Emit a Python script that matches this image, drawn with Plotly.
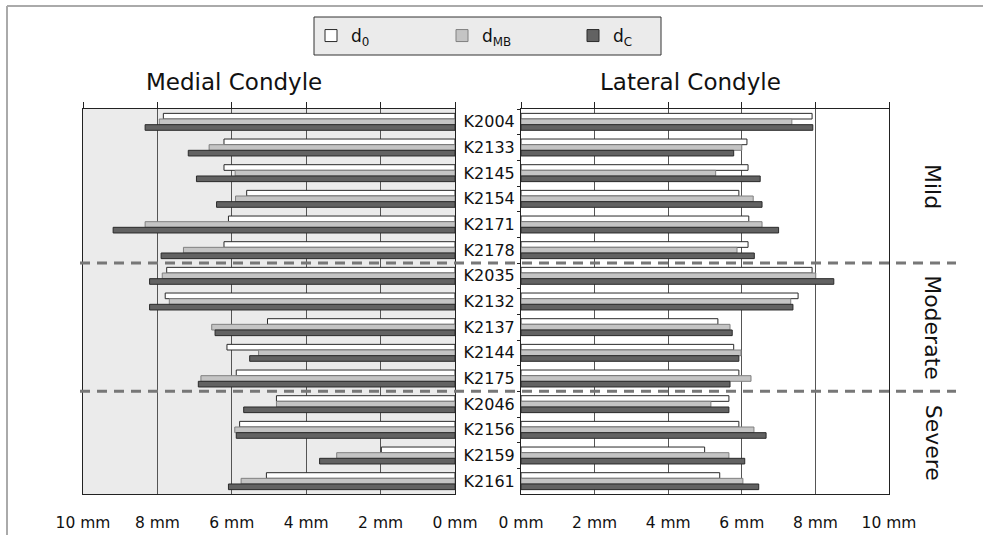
import plotly.graph_objects as go

patients = ["K2004", "K2133", "K2145", "K2154", "K2171", "K2178",
            "K2035", "K2132", "K2137", "K2144", "K2175",
            "K2046", "K2156", "K2159", "K2161"]

medial_d0 = [7.84, 6.21, 6.21, 5.60, 6.09, 6.21, 7.75, 7.79, 5.04, 6.13, 5.88, 4.80, 5.79, 1.98, 5.07]
medial_dmb = [7.95, 6.61, 5.91, 5.90, 8.33, 7.30, 7.87, 7.68, 6.54, 5.28, 6.83, 4.80, 5.92, 3.18, 5.75]
medial_dc = [8.33, 7.17, 6.95, 6.41, 9.19, 7.90, 8.21, 8.21, 6.45, 5.52, 6.90, 5.68, 5.88, 3.64, 6.09]

lateral_d0 = [7.91, 6.14, 6.17, 5.92, 6.19, 6.17, 7.91, 7.53, 5.35, 5.78, 5.92, 5.65, 5.92, 4.99, 5.40]
lateral_dmb = [7.36, 6.00, 5.29, 6.31, 6.55, 5.87, 8.01, 7.33, 5.68, 5.98, 6.25, 5.16, 6.33, 5.65, 6.03]
lateral_dc = [7.93, 5.78, 6.50, 6.55, 7.00, 6.34, 8.50, 7.39, 5.74, 5.92, 5.68, 5.65, 6.66, 6.08, 6.46]

series_names = ["d<sub>0</sub>", "d<sub>MB</sub>", "d<sub>C</sub>"]
tick_vals = [0, 2, 4, 6, 8, 10]
tick_text = ["0 mm", "2 mm", "4 mm", "6 mm", "8 mm", "10 mm"]

groups = ["Mild", "Moderate", "Severe"]
group_first = ["K2004", "K2035", "K2046"]
group_last = ["K2178", "K2175", "K2161"]

panel_titles = ["Medial Condyle", "Lateral Condyle"]

FONT = "DejaVu Sans"
fills = ["#ffffff", "#c4c4c4", "#626262"]
edges = ["#2a2a2a", "#808080", "#2a2a2a"]

W, H = 987, 535
fig = go.Figure()

medial = [medial_d0, medial_dmb, medial_dc]
lateral = [lateral_d0, lateral_dmb, lateral_dc]
for i in range(3):
    fig.add_trace(go.Bar(
        y=patients, x=medial[i], orientation="h", name=series_names[i],
        marker=dict(color=fills[i], line=dict(color=edges[i], width=1)),
        xaxis="x", yaxis="y", legendgroup=str(i), showlegend=True))
for i in range(3):
    fig.add_trace(go.Bar(
        y=patients, x=lateral[i], orientation="h", name=series_names[i],
        marker=dict(color=fills[i], line=dict(color=edges[i], width=1)),
        xaxis="x2", yaxis="y2", legendgroup=str(i), showlegend=False))

# invisible helper traces so the top tick-only axes are drawn
fig.add_trace(go.Scatter(x=medial_d0, y=patients, xaxis="x3", yaxis="y", mode="none",
                         showlegend=False, hoverinfo="skip"))
fig.add_trace(go.Scatter(x=lateral_d0, y=patients, xaxis="x4", yaxis="y2", mode="none",
                         showlegend=False, hoverinfo="skip"))

ydom = [1 - 494 / H, 1 - 109 / H]
xdom1 = [83 / W, 455 / W]
xdom2 = [521 / W, 889 / W]
yrange = [len(patients) - 0.5, -0.5]

axis_common = dict(
    tickvals=tick_vals, ticktext=tick_text, showgrid=True, gridcolor="#555555",
    gridwidth=1, zeroline=False, showline=True, linecolor="#222222", linewidth=1,
    mirror=True, ticks="", tickfont=dict(family=FONT, size=15.5, color="#111111"),
    ticklabelstandoff=14, fixedrange=True, automargin=False)
top_common = dict(
    tickvals=tick_vals, showticklabels=False, showgrid=False, zeroline=False,
    showline=True, linecolor="#222222", linewidth=1,
    ticks="outside", ticklen=6, tickcolor="#222222", side="top",
    automargin=False, fixedrange=True)

fig.update_layout(
    template="none",
    width=W, height=H, autosize=False,
    margin=dict(l=0, r=0, t=0, b=0, pad=0),
    paper_bgcolor="white", plot_bgcolor="white",
    barmode="group", bargap=0.34, bargroupgap=0,
    xaxis=dict(domain=xdom1, range=[10, 0], anchor="y", **axis_common),
    xaxis2=dict(domain=xdom2, range=[0, 10], anchor="y2", **axis_common),
    xaxis3=dict(overlaying="x", range=[10, 0], anchor="y", **top_common),
    xaxis4=dict(overlaying="x2", range=[0, 10], anchor="y2", **top_common),
    yaxis=dict(domain=ydom, anchor="x", type="category", categoryorder="array",
               categoryarray=patients, range=yrange, autorange=False, showgrid=False,
               showline=True, mirror=True, linecolor="#222222", ticks="",
               showticklabels=False, fixedrange=True, automargin=False),
    yaxis2=dict(domain=ydom, anchor="x2", type="category", categoryorder="array",
                categoryarray=patients, range=yrange, autorange=False, showgrid=False,
                showline=True, mirror=True, linecolor="#222222", ticks="outside",
                ticklen=3, tickcolor="#222222", tickson="boundaries",
                ticklabelstandoff=2, automargin=False,
                tickfont=dict(family=FONT, size=16, color="#111111"), fixedrange=True),
    legend=dict(orientation="h", x=311 / W, y=1 - 36 / H, xanchor="left", yanchor="middle",
                bgcolor="rgba(0,0,0,0)", borderwidth=0, entrywidth=86,
                font=dict(family=FONT, size=17, color="#111111"), traceorder="normal"),
    showlegend=True,
)

shapes = []
# left panel shaded background
shapes.append(dict(type="rect", xref="x domain", yref="y domain", x0=0, x1=1, y0=0, y1=1,
                   fillcolor="#ebebeb", line=dict(width=0), layer="below"))
# legend box
shapes.append(dict(type="rect", xref="paper", yref="paper", x0=314 / W, x1=661 / W,
                   y0=1 - 55 / H, y1=1 - 17 / H, fillcolor="#ebebeb",
                   line=dict(color="#333333", width=1), layer="below"))
# outer frame (left and top)
shapes.append(dict(type="line", xref="paper", yref="paper", x0=7 / W, x1=7 / W, y0=0, y1=1 - 6 / H,
                   line=dict(color="#aaaaaa", width=2)))
shapes.append(dict(type="line", xref="paper", yref="paper", x0=7 / W, x1=983 / W, y0=1 - 6 / H,
                   y1=1 - 6 / H, line=dict(color="#aaaaaa", width=2)))
# severity group separators between groups
for k in range(1, len(groups)):
    pos = patients.index(group_first[k]) - 0.5
    shapes.append(dict(type="line", xref="paper", yref="y", x0=80 / W, x1=956 / W, y0=pos, y1=pos,
                       line=dict(color="#777777", width=3, dash="10px,7px"), layer="above"))
fig.update_layout(shapes=shapes)

ann = []
ann.append(dict(text=panel_titles[0], xref="paper", yref="paper", x=234 / W, y=1 - 82 / H,
                xanchor="center", yanchor="middle",
                showarrow=False, font=dict(family=FONT, size=23, color="#111111")))
ann.append(dict(text=panel_titles[1], xref="paper", yref="paper", x=690 / W, y=1 - 82 / H,
                xanchor="center", yanchor="middle",
                showarrow=False, font=dict(family=FONT, size=23, color="#111111")))
for g, a, b in zip(groups, group_first, group_last):
    center = (patients.index(a) + patients.index(b)) / 2
    ann.append(dict(text=g, xref="paper", yref="y", x=933 / W, y=center, textangle=90,
                    xanchor="center", yanchor="middle",
                    showarrow=False, font=dict(family=FONT, size=22, color="#111111")))
fig.update_layout(annotations=ann)

fig.write_html("out.html")
